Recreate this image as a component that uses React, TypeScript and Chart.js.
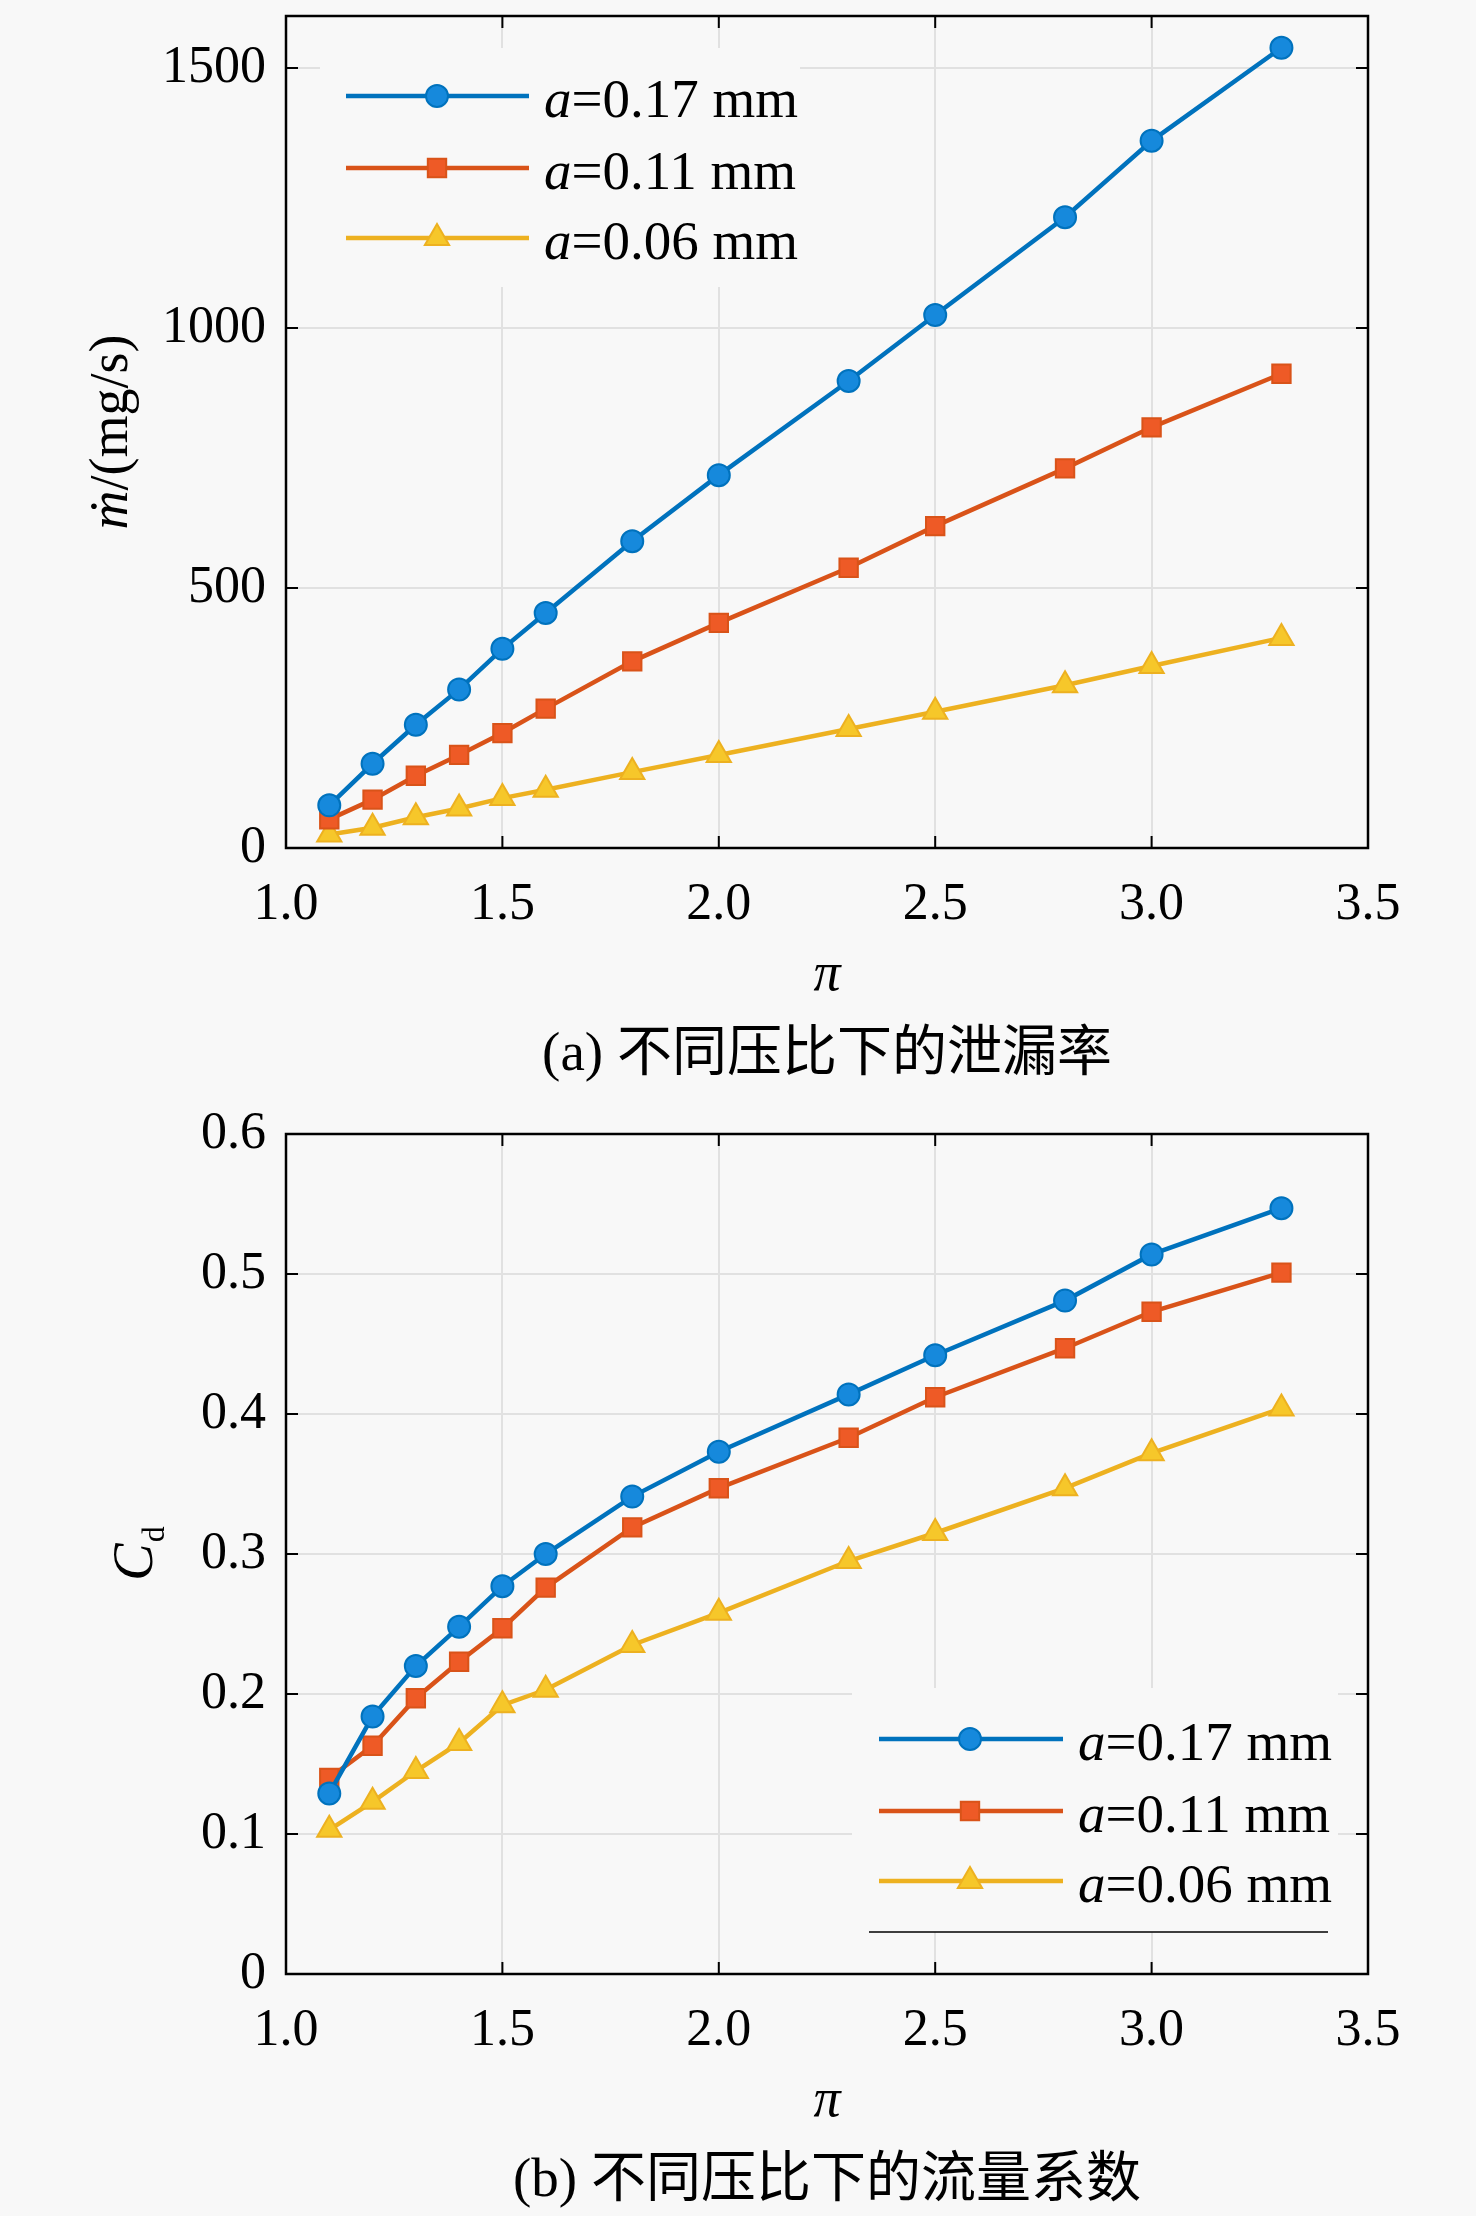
import React, { useEffect, useRef } from 'react';
import { Chart, registerables } from 'chart.js';
import { drawPoint } from 'chart.js/helpers';

Chart.register(...registerables);

// pressure ratio π
const piRatio = [1.1, 1.2, 1.3, 1.4, 1.5, 1.6, 1.8, 2.0, 2.3, 2.5, 2.8, 3.0, 3.3];

// (a) leakage rate, mg/s
const leak017 = [82, 162, 237, 305, 383, 452, 590, 717, 898, 1025, 1213, 1360, 1539];
const leak011 = [55, 93, 139, 179, 221, 268, 359, 433, 539, 619, 730, 809, 912];
const leak006 = [26, 39, 59, 76, 96, 112, 146, 179, 229, 262, 313, 350, 404];

// (b) discharge coefficient
const cd017 = [0.129, 0.184, 0.22, 0.248, 0.277, 0.3, 0.341, 0.373, 0.414, 0.442, 0.481, 0.514, 0.547];
const cd011 = [0.14, 0.163, 0.197, 0.223, 0.247, 0.276, 0.319, 0.347, 0.383, 0.412, 0.447, 0.473, 0.501];
const cd006 = [0.103, 0.123, 0.145, 0.165, 0.192, 0.203, 0.235, 0.258, 0.295, 0.315, 0.347, 0.372, 0.404];

const seriesNames = ['=0.17 mm', '=0.11 mm', '=0.06 mm'];
const xTicks = [1.0, 1.5, 2.0, 2.5, 3.0, 3.5];
const leakTicks = [0, 500, 1000, 1500];
const cdTicks = [0, 0.1, 0.2, 0.3, 0.4, 0.5, 0.6];

const BG = '#f8f8f8';
const GRID = '#e1e1e1';
const SERIF = '"Liberation Serif", "Times New Roman", "Noto Sans CJK SC", serif';
const W = 1476;

const looks = [
  { line: '#0072BD', face: '#1689DC', shape: 'circle', r: 11 },
  { line: '#D95319', face: '#EE5A26', shape: 'rect', r: 13 },
  { line: '#EDB120', face: '#F6C72A', shape: 'triangle', r: 14 },
];

type LegendBox = {
  x0: number; y0: number; x1: number; y1: number;
  rows: number[]; lineX0: number; lineX1: number; markX: number; textX: number;
  underline: boolean;
};

type Panel = {
  height: number;
  top: number;
  bottom: number;
  yMax: number;
  yTicks: number[];
  yFormat: (v: number) => string;
  series: number[][];
  yTitle: 'mdot' | 'cd';
  legend: LegendBox;
  caption: string;
};

const panels: Panel[] = [
  {
    height: 1108,
    top: 10,
    bottom: 848,
    yMax: 1600,
    yTicks: leakTicks,
    yFormat: (v) => String(v),
    series: [leak017, leak011, leak006],
    yTitle: 'mdot',
    legend: { x0: 320, y0: 48, x1: 800, y1: 287, rows: [96, 168, 238], lineX0: 346, lineX1: 529, markX: 437, textX: 544, underline: false },
    caption: '(a) 不同压比下的泄漏率',
  },
  {
    height: 1108,
    top: 26,
    bottom: 866,
    yMax: 0.6,
    yTicks: cdTicks,
    yFormat: (v) => (v === 0 ? '0' : v.toFixed(1)),
    series: [cd017, cd011, cd006],
    yTitle: 'cd',
    legend: { x0: 852, y0: 580, x1: 1338, y1: 824, rows: [631, 703, 773], lineX0: 879, lineX1: 1063, markX: 970, textX: 1078, underline: true },
    caption: '(b) 不同压比下的流量系数',
  },
];

const decoPlugin = (panel: Panel) => ({
  id: 'deco',
  afterDatasetsDraw(chart: any) {
    const ctx: CanvasRenderingContext2D = chart.ctx;
    const lg = panel.legend;
    ctx.save();
    ctx.fillStyle = BG;
    ctx.fillRect(lg.x0, lg.y0, lg.x1 - lg.x0, lg.y1 - lg.y0);
    lg.rows.forEach((ry, i) => {
      const lk = looks[i];
      ctx.strokeStyle = lk.line;
      ctx.lineWidth = 4.5;
      ctx.beginPath();
      ctx.moveTo(lg.lineX0, ry);
      ctx.lineTo(lg.lineX1, ry);
      ctx.stroke();
      ctx.fillStyle = lk.face;
      ctx.lineWidth = 2;
      drawPoint(ctx, { pointStyle: lk.shape, radius: lk.r, rotation: 0, borderWidth: 2 } as any, lg.markX, ry);
      ctx.fillStyle = '#000';
      ctx.textBaseline = 'alphabetic';
      ctx.textAlign = 'left';
      ctx.font = `italic 55px ${SERIF}`;
      ctx.fillText('a', lg.textX, ry + 21);
      const aw = ctx.measureText('a').width;
      ctx.font = `55px ${SERIF}`;
      ctx.fillText(seriesNames[i], lg.textX + aw, ry + 21);
    });
    if (lg.underline) {
      ctx.strokeStyle = '#000';
      ctx.lineWidth = 1.5;
      ctx.beginPath();
      ctx.moveTo(lg.x0 + 17, lg.y1);
      ctx.lineTo(lg.x1 - 10, lg.y1);
      ctx.stroke();
    }
    ctx.restore();
  },
  afterDraw(chart: any) {
    const ctx: CanvasRenderingContext2D = chart.ctx;
    const { left, right, top, bottom } = chart.chartArea;
    const xs = chart.scales.x;
    const ys = chart.scales.y;
    ctx.save();
    // inward tick marks on all four sides
    ctx.strokeStyle = '#000';
    ctx.lineWidth = 2;
    const tl = 12;
    ctx.beginPath();
    xTicks.forEach((v) => {
      const px = xs.getPixelForValue(v);
      ctx.moveTo(px, bottom);
      ctx.lineTo(px, bottom - tl);
      ctx.moveTo(px, top);
      ctx.lineTo(px, top + tl);
    });
    panel.yTicks.forEach((v) => {
      const py = ys.getPixelForValue(v);
      ctx.moveTo(left, py);
      ctx.lineTo(left + tl, py);
      ctx.moveTo(right, py);
      ctx.lineTo(right - tl, py);
    });
    ctx.stroke();
    // axes box
    ctx.lineWidth = 2.5;
    ctx.strokeRect(left, top, right - left, bottom - top);

    ctx.fillStyle = '#000';
    const cx = (left + right) / 2;
    const cy = (top + bottom) / 2;
    // x title
    ctx.textAlign = 'center';
    ctx.textBaseline = 'middle';
    ctx.font = `italic 54px ${SERIF}`;
    ctx.fillText('π', cx, bottom + 128);
    // caption
    ctx.font = `55px ${SERIF}`;
    ctx.fillText(panel.caption, cx, bottom + 208);

    // y title
    ctx.textAlign = 'left';
    ctx.textBaseline = 'alphabetic';
    if (panel.yTitle === 'mdot') {
      ctx.translate(127, cy);
      ctx.rotate(-Math.PI / 2);
      ctx.font = `italic 54px ${SERIF}`;
      const a = 'ṁ';
      const w1 = ctx.measureText(a).width;
      ctx.font = `54px ${SERIF}`;
      const b = '/(mg/s)';
      const w2 = ctx.measureText(b).width;
      const x0 = -(w1 + w2) / 2;
      ctx.font = `italic 54px ${SERIF}`;
      ctx.fillText(a, x0, 0);
      ctx.font = `54px ${SERIF}`;
      ctx.fillText(b, x0 + w1, 0);
    } else {
      ctx.translate(152, cy);
      ctx.rotate(-Math.PI / 2);
      ctx.font = `italic 56px ${SERIF}`;
      const w1 = ctx.measureText('C').width;
      ctx.font = `32px ${SERIF}`;
      const w2 = ctx.measureText('d').width;
      const x0 = -(w1 + w2) / 2;
      ctx.font = `italic 56px ${SERIF}`;
      ctx.fillText('C', x0, 0);
      ctx.font = `32px ${SERIF}`;
      ctx.fillText('d', x0 + w1 + 1, 12);
    }
    ctx.restore();
  },
});

const PlotPanel: React.FC<{ panel: Panel }> = ({ panel }) => {
  const canvasRef = useRef<HTMLCanvasElement | null>(null);

  useEffect(() => {
    const ctx = canvasRef.current?.getContext('2d');
    if (!ctx) return;
    const chart = new Chart(ctx, {
      type: 'line',
      data: {
        datasets: panel.series.map((vals, i) => ({
          label: 'a' + seriesNames[i],
          data: piRatio.map((x, j) => ({ x, y: vals[j] })),
          borderColor: looks[i].line,
          backgroundColor: looks[i].face,
          borderWidth: 4.5,
          pointStyle: looks[i].shape as any,
          pointRadius: looks[i].r,
          pointBackgroundColor: looks[i].face,
          pointBorderColor: looks[i].line,
          pointBorderWidth: 2,
          tension: 0,
          fill: false,
        })),
      },
      options: {
        animation: false,
        responsive: false,
        devicePixelRatio: 1,
        events: [],
        layout: { padding: { left: 0, right: W - 1368, top: panel.top, bottom: 0 } },
        plugins: { legend: { display: false }, tooltip: { enabled: false } },
        scales: {
          x: {
            type: 'linear',
            min: 1,
            max: 3.5,
            afterBuildTicks: (s: any) => {
              s.ticks = xTicks.map((value) => ({ value }));
            },
            afterFit: (s: any) => {
              s.height = panel.height - panel.bottom;
              s.paddingLeft = 0;
              s.paddingRight = 0;
            },
            grid: { color: GRID, lineWidth: 2, drawTicks: false },
            border: { display: false },
            ticks: {
              padding: 26,
              color: '#000',
              font: { family: SERIF, size: 52 },
              callback: (v: any) => Number(v).toFixed(1),
            },
          },
          y: {
            type: 'linear',
            min: 0,
            max: panel.yMax,
            afterBuildTicks: (s: any) => {
              s.ticks = panel.yTicks.map((value) => ({ value }));
            },
            afterFit: (s: any) => {
              s.width = 286;
              s.paddingTop = 0;
              s.paddingBottom = 0;
            },
            grid: { color: GRID, lineWidth: 2, drawTicks: false },
            border: { display: false },
            ticks: {
              padding: 20,
              color: '#000',
              font: { family: SERIF, size: 52 },
              callback: (v: any) => panel.yFormat(Number(v)),
            },
          },
        },
      },
      plugins: [decoPlugin(panel)],
    });
    return () => chart.destroy();
  }, [panel]);

  return (
    <canvas
      ref={canvasRef}
      width={W}
      height={panel.height}
      style={{ display: 'block', width: W, height: panel.height }}
    />
  );
};

const App: React.FC = () => {
  useEffect(() => {
    document.body.style.margin = '0';
    document.body.style.background = BG;
  }, []);

  return (
    <div style={{ width: W, background: BG }}>
      {panels.map((p, i) => (
        <PlotPanel key={i} panel={p} />
      ))}
    </div>
  );
};

export default App;
